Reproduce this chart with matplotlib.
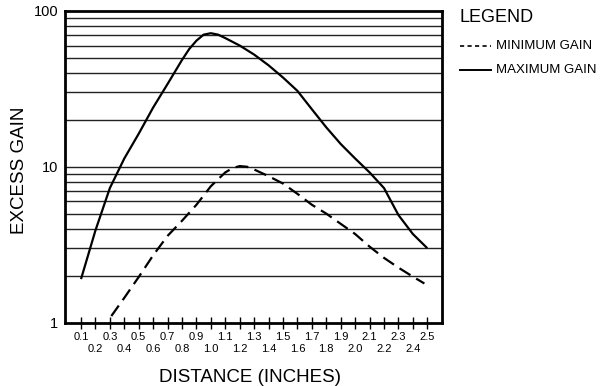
import matplotlib
matplotlib.use("Agg")
import matplotlib.pyplot as plt
from matplotlib.lines import Line2D
import numpy as np

plt.rcParams['font.family'] = ['Liberation Sans', 'DejaVu Sans']

# Data
dist_max = [0.1, 0.2, 0.3, 0.4, 0.5, 0.6, 0.7, 0.8, 0.85, 0.9, 0.95, 1.0, 1.05, 1.1, 1.2, 1.3, 1.4,
            1.5, 1.6, 1.7, 1.8, 1.9, 2.0, 2.1, 2.2, 2.3, 2.4, 2.5]
gain_max = [1.9, 3.9, 7.3, 11.3, 16.3, 24.0, 34.0, 48.5, 57.0, 64.5, 70.5, 72.0, 70.5, 67.0, 60.0, 52.5, 44.8,
            37.4, 30.7, 23.4, 17.9, 14.0, 11.3, 9.2, 7.3, 4.9, 3.7, 3.0]

dist_min = [0.31, 0.4, 0.5, 0.6, 0.7, 0.8, 0.9, 1.0, 1.1, 1.15, 1.2, 1.25, 1.3, 1.4, 1.5, 1.6,
            1.7, 1.8, 1.9, 2.0, 2.1, 2.2, 2.3, 2.4, 2.48]
gain_min = [1.1, 1.44, 1.96, 2.7, 3.6, 4.5, 5.7, 7.5, 9.2, 9.8, 10.1, 10.0, 9.6, 8.7, 7.8, 6.7,
            5.7, 5.0, 4.3, 3.7, 3.07, 2.6, 2.25, 1.97, 1.78]

x_ticks = [0.1, 0.2, 0.3, 0.4, 0.5, 0.6, 0.7, 0.8, 0.9, 1.0, 1.1, 1.2, 1.3,
           1.4, 1.5, 1.6, 1.7, 1.8, 1.9, 2.0, 2.1, 2.2, 2.3, 2.4, 2.5]
x_tick_labels = ['0.1', '0.2', '0.3', '0.4', '0.5', '0.6', '0.7', '0.8', '0.9', '1.0',
                 '1.1', '1.2', '1.3', '1.4', '1.5', '1.6', '1.7', '1.8', '1.9', '2.0',
                 '2.1', '2.2', '2.3', '2.4', '2.5']
y_grid = [2, 3, 4, 5, 6, 7, 8, 9, 10, 20, 30, 40, 50, 60, 70, 80, 90]
y_ticks = [1, 10, 100]
y_tick_labels = ['1', '10', '100']

W, H = 604, 386
fig = plt.figure(figsize=(W / 100, H / 100), dpi=100)
L, R, B, T = 65, 441.7, 322.5, 11
ax = fig.add_axes([L / W, 1 - B / H, (R - L) / W, (B - T) / H])

ax.set_yscale('log')
ax.set_ylim(1, 100)
ax.set_xlim(-0.011, 2.6)

for g in y_grid:
    ax.axhline(g, color='#222222', lw=1.0, zorder=1)

lw = 1.6
ax.plot(dist_max, gain_max, color='black', lw=lw, solid_capstyle='butt',
        solid_joinstyle='round', zorder=3)
ax.plot(dist_min, gain_min, color='black', lw=lw, dashes=(5.8, 3.0), zorder=3)

for s in ax.spines.values():
    s.set_linewidth(2.0)
    s.set_color('black')

ax.set_yticks(y_ticks)
ax.set_yticklabels(y_tick_labels)
ax.yaxis.set_minor_locator(matplotlib.ticker.NullLocator())
ax.tick_params(axis='y', length=0, labelsize=10.5, pad=5)

ax.set_xticks(x_ticks)
ax.set_xticklabels([])
ax.tick_params(axis='x', direction='inout', length=8, width=1.0, labelsize=7.5)
for i, (xv, lab) in enumerate(zip(x_ticks, x_tick_labels)):
    yoff = -14 if i % 2 == 0 else -27
    ax.annotate(lab, xy=(xv, 0), xycoords=('data', 'axes fraction'),
                xytext=(0, yoff), textcoords='offset pixels',
                ha='center', va='center', fontsize=8)

fig.text(250 / W, 1 - 378 / H, 'DISTANCE (INCHES)', ha='center', va='center', fontsize=13.5)
fig.text(20 / W, 1 - 170 / H, 'EXCESS GAIN', ha='center', va='center', rotation=90, fontsize=13.5)

# Legend
fig.text(459 / W, 1 - 17 / H, 'LEGEND', ha='left', va='center', fontsize=13)
fig.add_artist(Line2D([460 / W, 491 / W], [1 - 46 / H, 1 - 46 / H], color='black', lw=1.2,
                      dashes=(2.5, 2.0)))
fig.text(496 / W, 1 - 46 / H, 'MINIMUM GAIN', ha='left', va='center', fontsize=9.5)
fig.add_artist(Line2D([460 / W, 491 / W], [1 - 70 / H, 1 - 70 / H], color='black', lw=1.4))
fig.text(496 / W, 1 - 70 / H, 'MAXIMUM GAIN', ha='left', va='center', fontsize=9.5)

fig.savefig('out.png', dpi=100)
